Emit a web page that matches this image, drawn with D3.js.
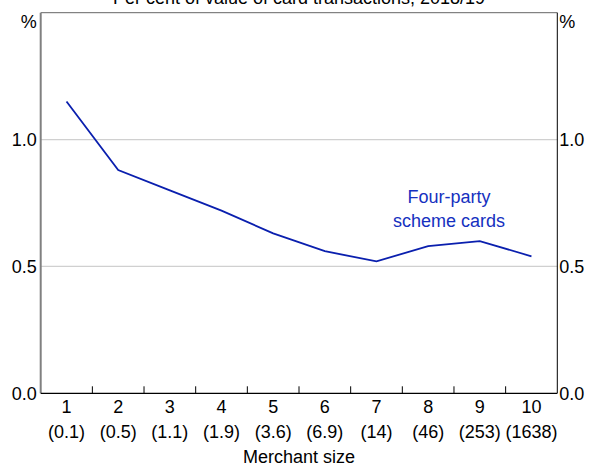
<!DOCTYPE html>
<html>
<head>
<meta charset="utf-8">
<script src="https://cdn.jsdelivr.net/npm/d3@7"></script>
<style>
  html, body { margin: 0; padding: 0; background: #fff; }
  svg { display: block; font-family: Arial, "Liberation Sans", sans-serif; }
</style>
</head>
<body>
<svg id="chart" width="591" height="468"></svg>
<script>
const categories = ["1","2","3","4","5","6","7","8","9","10"];
const sizeLabels = ["(0.1)","(0.5)","(1.1)","(1.9)","(3.6)","(6.9)","(14)","(46)","(253)","(1638)"];
const values = [1.15, 0.88, 0.80, 0.72, 0.63, 0.56, 0.52, 0.58, 0.60, 0.54];
const yTicks = [0.0, 0.5, 1.0];
const title = "Per cent of value of card transactions, 2018/19";
const seriesLabel = ["Four-party", "scheme cards"];
const xTitle = "Merchant size";

const svg = d3.select("#chart");
const L = 40.7, R = 557.3, T = 12.7, B = 393.3;
const x = d3.scaleBand().domain(categories).range([L, R]).padding(0);
const y = d3.scaleLinear().domain([0, 1.5]).range([B, T]);
const lineColor = "#0a1fae";
const fs = 18;

// title
svg.append("text").attr("x", (L + R) / 2).attr("y", 4).attr("text-anchor", "middle")
  .attr("font-size", fs).attr("fill", "#000").text(title);

// gridlines
svg.append("g").selectAll("line").data(yTicks.filter(d => d > 0)).join("line")
  .attr("x1", L).attr("x2", R).attr("y1", d => y(d)).attr("y2", d => y(d))
  .attr("stroke", "#d0d0d0").attr("stroke-width", 1.3);

// frame
svg.append("line").attr("x1", L).attr("x2", R).attr("y1", T).attr("y2", T).attr("stroke", "#666").attr("stroke-width", 1);
svg.append("line").attr("x1", L).attr("x2", L).attr("y1", T).attr("y2", B).attr("stroke", "#808080").attr("stroke-width", 2);
svg.append("line").attr("x1", R).attr("x2", R).attr("y1", T).attr("y2", B).attr("stroke", "#000").attr("stroke-width", 1);

// x axis with ticks between categories
const xAxis = svg.append("g").attr("transform", `translate(0,${B})`);
xAxis.append("line").attr("x1", L).attr("x2", R).attr("y1", 0).attr("y2", 0).attr("stroke", "#000").attr("stroke-width", 1.3);
xAxis.selectAll("line.tick").data(categories.slice(1)).join("line").attr("class", "tick")
  .attr("x1", d => x(d)).attr("x2", d => x(d)).attr("y1", 0).attr("y2", -7)
  .attr("stroke", "#000").attr("stroke-width", 1);
xAxis.selectAll("text.cat").data(categories).join("text").attr("class", "cat")
  .attr("x", d => x(d) + x.bandwidth() / 2).attr("y", 20).attr("text-anchor", "middle")
  .attr("font-size", fs).text(d => d);
xAxis.selectAll("text.sz").data(categories).join("text").attr("class", "sz")
  .attr("x", d => x(d) + x.bandwidth() / 2).attr("y", 45).attr("text-anchor", "middle")
  .attr("font-size", fs).text((d, i) => sizeLabels[i]);
svg.append("text").attr("x", (L + R) / 2).attr("y", 463).attr("text-anchor", "middle")
  .attr("font-size", fs).text(xTitle);

// y axis labels
const fmt = d3.format(".1f");
svg.append("g").selectAll("text").data(yTicks).join("text")
  .attr("x", L - 4).attr("y", d => y(d)).attr("dy", "0.35em").attr("text-anchor", "end")
  .attr("font-size", fs).text(d => fmt(d));
svg.append("g").selectAll("text").data(yTicks).join("text")
  .attr("x", R + 2).attr("y", d => y(d)).attr("dy", "0.35em").attr("text-anchor", "start")
  .attr("font-size", fs).text(d => fmt(d));
svg.append("text").attr("x", L - 4).attr("y", 28).attr("text-anchor", "end").attr("font-size", fs).text("%");
svg.append("text").attr("x", R + 2).attr("y", 28).attr("text-anchor", "start").attr("font-size", fs).text("%");

// line
const line = d3.line().x((d, i) => x(categories[i]) + x.bandwidth() / 2).y(d => y(d));
svg.append("path").datum(values).attr("d", line).attr("fill", "none")
  .attr("stroke", lineColor).attr("stroke-width", 1.8);

// annotation
svg.append("g").selectAll("text").data(seriesLabel).join("text")
  .attr("x", 449).attr("y", (d, i) => 203 + i * 23.5).attr("text-anchor", "middle")
  .attr("font-size", fs).attr("fill", "#1530c0").text(d => d);
</script>
</body>
</html>
